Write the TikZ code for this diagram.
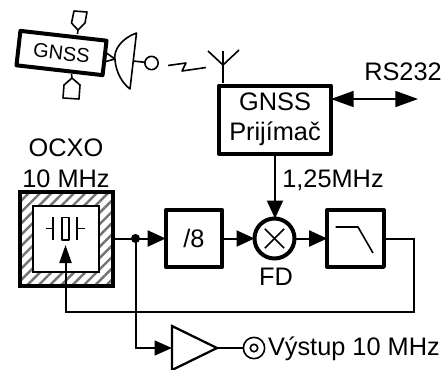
\documentclass[tikz,border=0pt]{standalone}
\usepackage{fontspec}
\setmainfont{Liberation Sans}
\usetikzlibrary{arrows.meta,patterns.meta,calc}
\tikzset{
  x=0.75pt,y=-0.75pt,
  lbl/.style={inner sep=0pt,outer sep=0pt,font=\fontsize{19}{22}\selectfont},
  blk/.style={draw,line width=3pt,outer sep=0pt,inner sep=0pt,align=center,line join=round,font=\fontsize{19}{22.5}\selectfont},
  thin wire/.style={line width=1.5pt},
  big/.style={-{Triangle[length=13.5pt,width=12pt]},line width=1.5pt},
  sym/.style={line width=1.2pt,line join=round},
}
\begin{document}
\begin{tikzpicture}
\useasboundingbox (0,0) rectangle (445,369);
\fill[white] (0,0) rectangle (445,369);
% satellite
\node[blk,rotate=-6.5,minimum width=65pt,minimum height=26pt,line width=3pt,font=\fontsize{15}{18}\selectfont] (sat) at (61.5,53) {GNSS};
\draw[sym] (77.5,34) -- (78,30) -- (71.5,23) -- (74,11) -- (87,12) -- (85,23) -- (78,30);
\draw[sym] (71.5,74) -- (72,78) -- (64,85) -- (63,98) -- (79,99) -- (80,85) -- (72,78);
\draw[sym] (105,52) -- (115,59) -- (104,62);
\coordinate (dA) at (136.5,33);
\coordinate (dB) at (130,89);
\draw[sym,fill=white] (dA) .. controls (122,38) and (113,50) .. (115,60) .. controls (116,72) and (122,83) .. (dB) -- cycle;
\node[draw,circle,line width=1.2pt,minimum size=10pt,inner sep=0pt,outer sep=0pt] (feed) at (151.5,63) {};
\draw[sym] (133,61) -- (feed);
\draw[sym] (168,65.5) -- (186,63) -- (182,71) -- (206,67.5);
% receiver
\node[blk,minimum width=84pt,minimum height=51pt] (rx) at (275,119.5) {GNSS\\Prijímač};
\coordinate (ant) at (223,65);
\draw[sym] (223,83) -- (223,51);
\draw[sym] (208,51) -- (ant) -- (239,50);
\node[lbl] (rs) at (403,72) {RS232};
\coordinate (rsEnd) at (418,99);
\draw[{Triangle[length=17pt,width=12pt]}-{Triangle[length=17pt,width=12pt]},line width=1.2pt] (rx.east |- rsEnd) -- (rsEnd);
% ocxo
\node[lbl] (oc1) at (66,148) {OCXO};
\node[lbl] (oc2) at (66,179) {10 MHz};
\node[draw,line width=3pt,outer sep=0pt,minimum width=70pt,minimum height=70.5pt,inner sep=0pt,
  pattern={Lines[angle=45,distance=6pt,line width=1.8pt]},pattern color=black!55] (ocxo) at (66.5,238.5) {};
\node[draw,fill=white,line width=1.2pt,outer sep=0pt,minimum width=49.5pt,minimum height=49.5pt,inner sep=0pt] (inner) at (66,239) {};
\draw[sym] (46,228.5) -- (53,228.5) (53,217) -- (53,240);
\draw[sym] (85,228.5) -- (77,228.5) (77,217) -- (77,240);
\draw[sym] (62,217.5) rectangle (69,240);
% divider, mixer, filter
\node[blk,minimum width=42.5pt,minimum height=42.5pt] (div) at (194,238.5) {/8};
\node[draw,circle,line width=3pt,outer sep=0pt,minimum size=30pt,inner sep=0pt] (mix) at (274.5,238.5) {};
\draw[sym] ($(mix.45)+(-4.5,4.5)$) -- ($(mix.225)+(4.5,-4.5)$);
\draw[sym] ($(mix.135)+(4.5,4.5)$) -- ($(mix.315)+(-4.5,-4.5)$);
\node[lbl] (fd) at (276,277) {FD};
\node[blk,minimum width=42.5pt,minimum height=42.5pt] (lpf) at (355.5,238.5) {};
\draw[sym] (335.5,227) -- (358,227) -- (373,253);
\node[lbl] (mhz) at (333,180) {1,25MHz};
% wires
\draw[big] (rx.south) -- (rx.south |- mix.north);
\coordinate (j) at (135.5,238.5);
\draw[big] (ocxo.east) -- (div.west);
\fill (j) circle (3.4pt);
\draw[big] (div.east) -- (mix.west);
\draw[big] (mix.east) -- (lpf.west);
\coordinate (r1) at (414,238.5);
\coordinate (r2) at (414,312);
\coordinate (r3) at (65.5,312);
\coordinate (tip) at (65.5,245);
\draw[big,-{Triangle[length=13.5pt,width=9pt]}] (lpf.east) -- (r1) -- (r2) -- (r3) -- (tip);
% amplifier and output
\coordinate (a1) at (172,326);
\coordinate (a2) at (172,370);
\coordinate (a3) at (217,348);
\draw[line width=1.7pt,line join=miter,fill=white] (a1) -- (a3) -- (a2) -- cycle;
\coordinate (b) at (135.5,348);
\draw[big,-{Triangle[length=13pt,width=11pt]}] (j) -- (b) -- (a1 |- b);
\node[draw,circle,line width=1.2pt,minimum size=16pt,inner sep=0pt,outer sep=0pt] (out) at (254,348) {};
\fill[white,draw=black,line width=1.2pt] (out.center) circle (2.8pt);
\draw[thin wire] (a3) -- (out);
\node[lbl,anchor=west] (vy) at (268,349) {Výstup 10 MHz};
\end{tikzpicture}
\end{document}
